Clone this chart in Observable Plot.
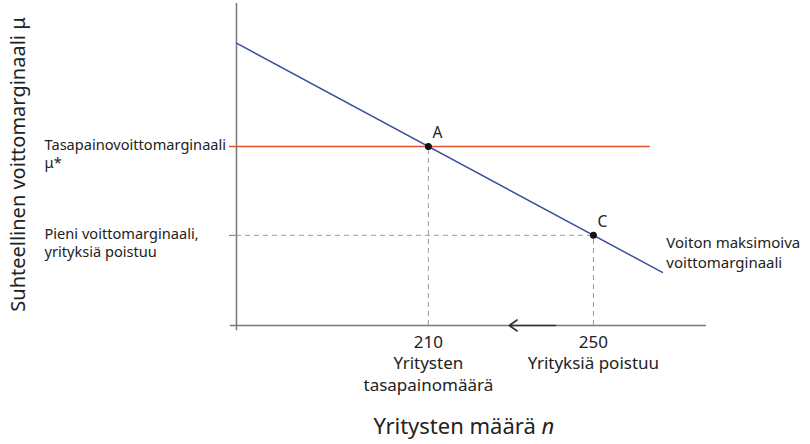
<!DOCTYPE html>
<html>
<head>
<meta charset="utf-8">
<script src="https://cdn.jsdelivr.net/npm/d3@7"></script>
<script src="https://cdn.jsdelivr.net/npm/@observablehq/plot@0.6"></script>
<style>
  body { margin: 0; background: #fff; }
  #chart svg { display: block; }
</style>
</head>
<body>
<div id="chart"></div>
<script>
// Data (abstract model values)
const nDomain = [163.5, 277.4];
const muDomain = [0, 100];
const profitN = [163.5, 266.7];       // profit-maximising margin line
const profitMu = [87.7, 16.5];
const equilibriumN = 210;
const exitN = 250;
const equilibriumMu = 55.6;
const lowMu = 28;
const redLineEndN = 263.8;
const arrowN = [240.8, 229.6];
const pointLabels = ["A", "C"];
const xTickLabels = ["210\nYritysten\ntasapainomäärä", "250\nYrityksiä poistuu"];
const yTickLabels = ["Tasapainovoittomarginaali\nμ*", "Pieni voittomarginaali,\nyrityksiä poistuu"];

const blue = "#3b4ea1";
const red = "#e0552f";
const axisGray = "#7a7a7a";
const dashGray = "#9a9a9a";
const font = "Noto Sans";

const profitLine = profitN.map((n, i) => ({n, mu: profitMu[i]}));
const points = [
  {n: equilibriumN, mu: equilibriumMu, label: pointLabels[0]},
  {n: exitN, mu: lowMu, label: pointLabels[1]}
];
const xTicks = [
  {n: equilibriumN, label: xTickLabels[0]},
  {n: exitN, label: xTickLabels[1]}
];
const yTicks = [
  {mu: equilibriumMu, label: yTickLabels[0]},
  {mu: lowMu, label: yTickLabels[1]}
];
const tickLeft = nDomain[0] - 1.7;

const chart = Plot.plot({
  width: 810,
  height: 444,
  marginLeft: 236,
  marginRight: 104,
  marginTop: 3,
  marginBottom: 119,
  style: {fontFamily: font, background: "white"},
  x: {domain: nDomain, axis: null},
  y: {domain: muDomain, axis: null},
  marks: [
    // axes
    Plot.ruleX([nDomain[0]], {y1: -1.6, y2: muDomain[1], stroke: axisGray, strokeWidth: 1.5}),
    Plot.ruleY([0], {x1: nDomain[0] - 1.5, x2: nDomain[1], stroke: axisGray, strokeWidth: 1.5}),
    // dashed guides
    Plot.ruleX(points, {x: "n", y1: 0, y2: "mu", stroke: dashGray, strokeDasharray: "5,4", strokeWidth: 1}),
    Plot.ruleY([lowMu], {x1: nDomain[0], x2: exitN, stroke: dashGray, strokeDasharray: "5,4", strokeWidth: 1}),
    Plot.ruleY([lowMu], {x1: tickLeft, x2: nDomain[0], stroke: axisGray, strokeWidth: 1}),
    // red equilibrium line
    Plot.ruleY([equilibriumMu], {x1: tickLeft, x2: redLineEndN, stroke: red, strokeWidth: 1.6}),
    // blue line
    Plot.line(profitLine, {x: "n", y: "mu", stroke: blue, strokeWidth: 1.5}),
    // arrow
    Plot.arrow([{x1: arrowN[0], x2: arrowN[1]}], {x1: "x1", x2: "x2", y1: 0, y2: 0, stroke: "#333", strokeWidth: 1.6, headLength: 9, headAngle: 70}),
    // points
    Plot.dot(points, {x: "n", y: "mu", r: 3.5, fill: "#111", stroke: "none"}),
    Plot.text(points, {x: "n", y: "mu", text: "label", dx: 9, dy: -13, textAnchor: "middle", fontSize: 15.5, fill: "#222"}),
    // line label
    Plot.text([{n: profitN[1], mu: profitMu[1]}], {x: "n", y: "mu", text: () => "Voiton maksimoiva\nvoittomarginaali", dx: 4, dy: -38, textAnchor: "start", lineAnchor: "top", fontSize: 15, lineHeight: 1.3, fill: "#222"}),
    // x tick labels
    Plot.text(xTicks, {x: "n", y: 0, text: "label", dy: 7, lineAnchor: "top", textAnchor: "middle", fontSize: 17, lineHeight: 1.26, fill: "#222"}),
    // y tick labels
    Plot.text(yTicks, {y: "mu", frameAnchor: "left", dx: -192, dy: -10, text: "label", lineAnchor: "top", textAnchor: "start", fontSize: 14.6, lineHeight: 1.28, fill: "#222"}),
    // x axis title
    Plot.text(["Yritysten määrä "], {frameAnchor: "bottom", dx: 70, dy: 108, textAnchor: "end", fontSize: 22, fill: "#222"}),
    Plot.text(["n"], {frameAnchor: "bottom", dx: 70, dy: 108, textAnchor: "start", fontSize: 22, fontStyle: "italic", fill: "#222"}),
    // y axis title
    Plot.text(["Suhteellinen voittomarginaali μ"], {frameAnchor: "left", dx: -218, dy: 0, rotate: -90, textAnchor: "middle", fontSize: 20, fill: "#222"})
  ]
});
document.getElementById("chart").appendChild(chart);
</script>
</body>
</html>
